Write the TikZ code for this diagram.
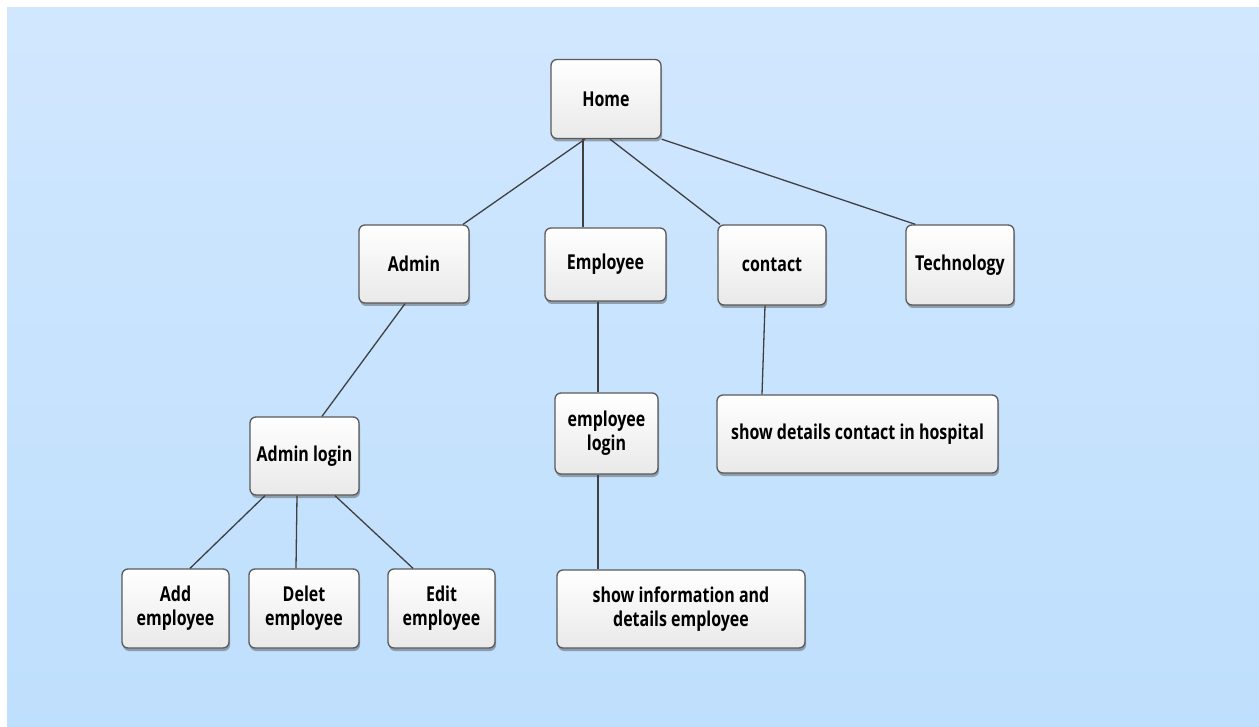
\documentclass[tikz,border=0pt]{standalone}
\usepackage{fontspec}
\setmainfont{Open Sans}[FakeStretch=0.78]
\usetikzlibrary{shadows}
\definecolor{bgtop}{HTML}{D1E7FE}
\definecolor{bgbot}{HTML}{BEDFFD}
\definecolor{boxline}{HTML}{5A5A5A}
\definecolor{edgecol}{HTML}{404040}
\definecolor{boxtop}{HTML}{FFFFFF}
\definecolor{boxbot}{HTML}{E9E9E9}
\tikzset{
  box/.style={draw=boxline, line width=1.3pt, rounded corners=6pt,
    top color=boxtop, bottom color=boxbot, align=center,
    font=\fontsize{20.5}{24}\selectfont\bfseries, text=black,
    inner sep=0pt,
    drop shadow={shadow xshift=1pt, shadow yshift=-3pt, opacity=0.45, fill=black!70}},
  edge/.style={draw=edgecol, line width=1.3pt}
}
\begin{document}
\begin{tikzpicture}[x=1pt,y=-1pt]
\useasboundingbox (0,0) rectangle (1259,727);
\shade[top color=bgtop, bottom color=bgbot] (7,8) rectangle (1259,727);
\node[box, minimum width=110pt, minimum height=79pt] (home) at (606,99) {Home};
\node[box, minimum width=110pt, minimum height=78pt] (admin) at (414,264) {Admin};
\node[box, minimum width=121pt, minimum height=73pt] (employee) at (605.5,264.5) {Employee};
\node[box, minimum width=108pt, minimum height=80pt] (contact) at (772,265) {contact};
\node[box, minimum width=108pt, minimum height=80pt] (technology) at (960,265) {Technology};
\node[box, minimum width=109pt, minimum height=78pt] (adminlogin) at (304.5,456) {Admin login};
\node[box, minimum width=103pt, minimum height=81pt] (emplogin) at (606.5,433.5) {employee\\login};
\node[box, minimum width=281pt, minimum height=78pt] (showdetails) at (857.5,434) {show details contact in hospital};
\node[box, minimum width=107pt, minimum height=79pt] (add) at (175.5,608.5) {Add\\employee};
\node[box, minimum width=110pt, minimum height=79pt] (delet) at (304,608.5) {Delet\\employee};
\node[box, minimum width=107pt, minimum height=79pt] (edit) at (441.5,608.5) {Edit\\employee};
\node[box, minimum width=248pt, minimum height=78pt] (showinfo) at (681,609) {show information and\\details employee};
\draw[edge] ([xshift=-21pt]home.south) -- ([xshift=49pt]admin.north);
\draw[edge] ([xshift=-23pt]home.south) -- ([xshift=-22.5pt]employee.north);
\draw[edge] ([xshift=4pt]home.south) -- ([xshift=-52pt]contact.north);
\draw[edge] (home.south east) -- ([xshift=10pt]technology.north west);
\draw[edge] ([xshift=-9pt]admin.south) -- ([xshift=17.5pt]adminlogin.north);
\draw[edge] ([xshift=-7.5pt]employee.south) -- ([xshift=-8.5pt]emplogin.north);
\draw[edge] ([xshift=-7pt]contact.south) -- ([xshift=-95.5pt]showdetails.north);
\draw[edge] ([xshift=-8.5pt]emplogin.south) -- ([xshift=-83pt]showinfo.north);
\draw[edge] ([xshift=-39.5pt]adminlogin.south) -- ([xshift=14.5pt]add.north);
\draw[edge] ([xshift=-7.5pt]adminlogin.south) -- ([xshift=-8pt]delet.north);
\draw[edge] ([xshift=30.5pt]adminlogin.south) -- ([xshift=-28.5pt]edit.north);
\end{tikzpicture}
\end{document}
